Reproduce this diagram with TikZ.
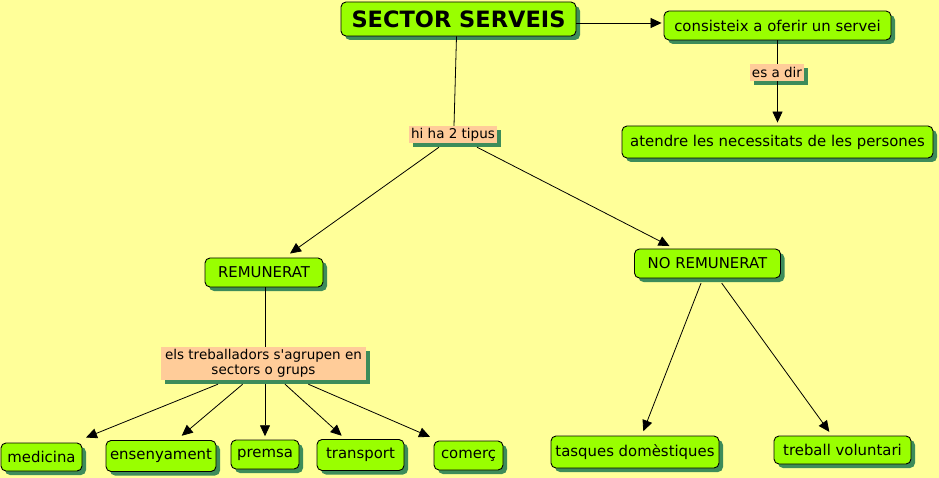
\documentclass[tikz,border=0pt]{standalone}
\usepackage{fontspec}
\setmainfont{DejaVu Sans}
\usetikzlibrary{shadows,arrows.meta}
\definecolor{bgyellow}{RGB}{255,255,153}
\definecolor{conceptgreen}{RGB}{153,255,0}
\definecolor{shadowgreen}{RGB}{61,140,90}
\definecolor{peach}{RGB}{255,204,153}
\tikzset{
  concept/.style={draw=black, line width=0.9pt, fill=conceptgreen, rounded corners=5pt,
    inner sep=0pt, font=\fontsize{14.9}{17}\selectfont,
    drop shadow={fill=shadowgreen, opacity=1, shadow xshift=4pt, shadow yshift=-4pt}},
  linkph/.style={fill=peach, inner sep=0pt, align=center, font=\fontsize{13.5}{15.5}\selectfont,
    drop shadow={fill=shadowgreen, opacity=1, shadow xshift=4pt, shadow yshift=-4pt}},
  conn/.style={line width=0.8pt, black},
  arr/.style={conn, -{Triangle[length=11pt,width=10pt]}},
}
\begin{document}
\begin{tikzpicture}[x=1pt,y=-1pt]
\fill[bgyellow] (0,0) rectangle (939,478);
\useasboundingbox (0,0) rectangle (939,478);

\node[concept, minimum width=235pt, minimum height=34pt, font=\bfseries\fontsize{22.5}{26}\selectfont] (title) at (458.5,19) {SECTOR SERVEIS};
\node[concept, minimum width=227pt, minimum height=29pt] (cons) at (777.5,25.5) {consisteix a oferir un servei};
\node[linkph, minimum width=54pt, minimum height=17pt] (esadir) at (777,72.5) {es a dir};
\node[concept, minimum width=311pt, minimum height=32pt] (atendre) at (777.5,142) {atendre les necessitats de les persones};
\node[linkph, minimum width=88pt, minimum height=17pt] (hiha) at (453,134.5) {hi ha 2 tipus};
\node[concept, minimum width=118pt, minimum height=29pt] (rem) at (264,272.5) {REMUNERAT};
\node[concept, minimum width=146pt, minimum height=29pt] (norem) at (707.5,263.5) {NO REMUNERAT};
\node[linkph, minimum width=205pt, minimum height=33pt] (els) at (263.5,363.5) {els treballadors s\textquotesingle agrupen en\\sectors o grups};
\node[concept, minimum width=81pt, minimum height=28pt] (med) at (41.5,457) {medicina};
\node[concept, minimum width=110pt, minimum height=31pt] (ens) at (161,456) {ensenyament};
\node[concept, minimum width=68pt, minimum height=29pt] (premsa) at (265,454.5) {premsa};
\node[concept, minimum width=87pt, minimum height=31pt] (trans) at (360.5,455) {transport};
\node[concept, minimum width=69pt, minimum height=29pt] (comerc) at (468.5,455.5) {comerç};
\node[concept, minimum width=168pt, minimum height=32pt] (tasques) at (635,452) {tasques domèstiques};
\node[concept, minimum width=137pt, minimum height=28pt] (treball) at (842.5,450) {treball voluntari};

\draw[arr] ([yshift=-4pt]title.east) -- ([xshift=-2pt,yshift=2.5pt]cons.west);
\draw[conn] (cons.south) -- ([xshift=0.5pt]esadir.north);
\draw[arr] ([xshift=0.5pt]esadir.south) -- ([yshift=3pt]atendre.north);
\draw[conn] ([xshift=-2pt]title.south) -- ([xshift=1pt]hiha.north);
\draw[arr] ([xshift=-14pt,yshift=-4pt]hiha.south) -- ([xshift=26pt,yshift=4pt]rem.north);
\draw[arr] ([xshift=24pt,yshift=-4pt]hiha.south) -- ([xshift=-38pt,yshift=2.5pt]norem.north);
\draw[conn] ([xshift=1pt]rem.south) -- ([xshift=1.5pt]els.north);
\draw[arr] ([xshift=-45.5pt,yshift=-4pt]els.south) -- ([xshift=44.5pt,yshift=5pt]med.north);
\draw[arr] ([xshift=-20.8pt,yshift=-4pt]els.south) -- ([xshift=20.7pt,yshift=4.3pt]ens.north);
\draw[arr] ([xshift=1.5pt,yshift=-4pt]els.south) -- ([yshift=3.3pt]premsa.north);
\draw[arr] ([xshift=21.5pt,yshift=-4pt]els.south) -- ([xshift=-18.8pt,yshift=3.3pt]trans.north);
\draw[arr] ([xshift=44.8pt,yshift=-4pt]els.south) -- ([xshift=-38.5pt,yshift=3.7pt]comerc.north);
\draw[arr] ([xshift=-6.5pt,yshift=-4.7pt]norem.south) -- ([xshift=8.3pt,yshift=4.3pt]tasques.north);
\draw[arr] ([xshift=14.2pt,yshift=-4.7pt]norem.south) -- ([xshift=-13.2pt,yshift=3.7pt]treball.north);
\end{tikzpicture}
\end{document}
